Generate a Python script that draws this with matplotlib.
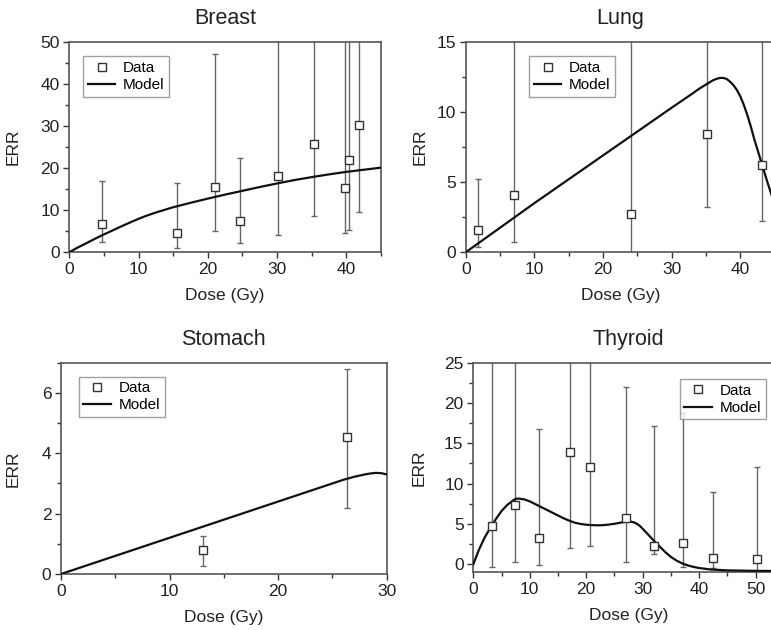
import numpy as np
import matplotlib
matplotlib.use("Agg")
import matplotlib.pyplot as plt
from matplotlib.ticker import MultipleLocator

plt.rcParams['font.family'] = ['Liberation Sans', 'DejaVu Sans']

# --- data ---
# Breast
breast_x = [4.7, 15.6, 21.1, 24.6, 30.2, 35.3, 39.8, 40.4, 41.8]
breast_y = [6.8, 4.7, 15.5, 7.5, 18.0, 25.8, 15.2, 22.0, 30.3]
breast_lo = [2.5, 1.0, 5.0, 2.2, 4.0, 8.5, 4.6, 5.2, 9.5]
breast_hi = [17.0, 16.5, 47.0, 22.4, 60.0, 60.0, 60.0, 60.0, 60.0]
breast_mx = [0, 1, 2.5, 4, 5, 6, 7.5, 9, 10, 11, 12.5, 15, 17.5, 20, 22.5, 25, 27.5, 30,
             32.5, 35, 37.5, 40, 42.5, 45]
breast_my = [0, 0.95, 2.2, 3.45, 4.25, 5.0, 6.15, 7.25, 7.95, 8.6, 9.45, 10.7, 11.75, 12.75,
             13.7, 14.6, 15.5, 16.35, 17.15, 17.85, 18.5, 19.1, 19.6, 20.1]

# Lung
lung_x = [1.75, 7.0, 24.0, 35.1, 43.2]
lung_y = [1.6, 4.1, 2.7, 8.4, 6.2]
lung_lo = [0.4, 0.7, -1.0, 3.2, 2.2]
lung_hi = [5.2, 20.0, 20.0, 20.0, 20.0]
lung_mx = [0, 5, 10, 15, 20, 25, 30, 33, 34, 35, 35.5, 36, 36.5, 37, 37.5, 38, 38.5, 39,
           39.5, 40, 40.5, 41, 41.5, 42, 42.5, 43, 43.5, 44, 44.5, 45]
lung_my = [0, 1.75, 3.5, 5.2, 6.9, 8.6, 10.3, 11.3, 11.65, 11.95, 12.1, 12.25, 12.35, 12.42,
           12.42, 12.35, 12.15, 11.9, 11.55, 11.1, 10.5, 9.8, 9.0, 8.1, 7.3, 6.5, 5.7, 4.9,
           4.15, 3.4]

# Stomach
stomach_x = [13.1, 26.3]
stomach_y = [0.78, 4.55]
stomach_lo = [0.25, 2.2]
stomach_hi = [1.27, 6.78]
stomach_mx = [0, 5, 10, 15, 20, 25, 26, 27, 28, 28.5, 29, 29.5, 30]
stomach_my = [0, 0.6, 1.2, 1.8, 2.4, 3.0, 3.12, 3.22, 3.3, 3.33, 3.35, 3.34, 3.3]

# Thyroid
thyroid_x = [3.3, 7.4, 11.7, 17.2, 20.7, 27.1, 32.0, 37.1, 42.5, 50.2]
thyroid_y = [4.76, 7.3, 3.3, 13.95, 12.1, 5.7, 2.3, 2.65, 0.8, 0.6]
thyroid_lo = [-0.33, 0.3, -0.1, 2.0, 2.3, 0.33, 1.25, -0.4, -0.5, -0.8]
thyroid_hi = [30.0, 30.0, 16.8, 30.0, 30.0, 22.0, 17.2, 18.7, 8.9, 12.1]
thyroid_mx = [0, 1, 2, 3, 4, 5, 6, 7, 7.5, 8, 9, 10, 11, 12, 13, 14, 15, 16, 17, 18, 19, 20,
              21, 22, 23, 24, 25, 26, 27, 27.5, 28, 28.5, 29, 29.5, 30, 31, 32, 33, 34, 35,
              36, 37, 38, 39, 40, 42, 45, 50, 55]
thyroid_my = [0.0, 1.8, 3.3, 4.5, 5.6, 6.6, 7.35, 7.9, 8.1, 8.15, 8.05, 7.8, 7.45, 7.1, 6.75,
              6.4, 6.05, 5.7, 5.4, 5.15, 5.0, 4.9, 4.85, 4.83, 4.85, 4.92, 5.02, 5.15, 5.27,
              5.3, 5.27, 5.18, 5.0, 4.75, 4.4, 3.65, 2.9, 2.2, 1.5, 0.9, 0.45, 0.1, -0.15,
              -0.33, -0.47, -0.65, -0.76, -0.82, -0.85]

W, H = 771, 630
fig = plt.figure(figsize=(W / 100, H / 100), dpi=100)


def px_axes(left, top, width, height):
    return fig.add_axes([left / W, 1 - (top + height) / H, width / W, height / H])


def panel(ax, title, x, y, lo, hi, mx, my, xlim, ylim, xmaj, ymaj, xmin, ymin,
          leg_xy, ylab_x):
    yerr = [np.array(y) - np.array(lo), np.array(hi) - np.array(y)]
    ax.errorbar(x, y, yerr=yerr, fmt='none', ecolor='#666666', elinewidth=1.0,
                capsize=2.5, capthick=1.0, zorder=2)
    ax.plot(x, y, 's', ms=5.5, mfc='white', mec='#333333', mew=1.0, zorder=4, label='Data')
    ax.plot(mx, my, '-', color='#111111', lw=1.6, zorder=3, label='Model')
    ax.set_xlim(*xlim)
    ax.set_ylim(*ylim)
    ax.xaxis.set_major_locator(MultipleLocator(xmaj))
    ax.yaxis.set_major_locator(MultipleLocator(ymaj))
    ax.xaxis.set_minor_locator(MultipleLocator(xmin))
    ax.yaxis.set_minor_locator(MultipleLocator(ymin))
    ax.tick_params(which='both', direction='out', top=False, right=False,
                   colors='#333333', labelcolor='#222222', labelsize=12.5)
    ax.tick_params(which='major', length=4, width=1, pad=3)
    ax.tick_params(which='minor', length=3, width=1)
    for s in ax.spines.values():
        s.set_color('#555555')
        s.set_linewidth(1.2)
    ax.set_title(title, fontsize=15.5, pad=13, color='#222222')
    ax.set_xlabel('Dose (Gy)', fontsize=12.5, color='#222222', labelpad=8)
    ax.set_ylabel('ERR', fontsize=12.5, color='#222222')
    ax.yaxis.set_label_coords(ylab_x, 0.5)
    leg = ax.legend(loc='upper left', bbox_to_anchor=leg_xy, fontsize=11, frameon=True,
                    fancybox=False, borderpad=0.3, labelspacing=0.2, handlelength=1.8,
                    handletextpad=0.5, borderaxespad=0)
    leg.get_frame().set_edgecolor('#888888')
    leg.get_frame().set_linewidth(1.0)


ax1 = px_axes(69.3, 41.7, 311.7, 210.6)
panel(ax1, 'Breast', breast_x, breast_y, breast_lo, breast_hi, breast_mx, breast_my,
      (0, 45), (0, 50), 10, 10, 5, 5, (0.045, 0.93), -0.155)

ax2 = px_axes(465.7, 41.7, 309, 210.6)
panel(ax2, 'Lung', lung_x, lung_y, lung_lo, lung_hi, lung_mx, lung_my,
      (0, 45), (0, 15), 10, 5, 5, 2.5, (0.206, 0.93), -0.122)

ax3 = px_axes(61, 362.7, 325.7, 211.3)
panel(ax3, 'Stomach', stomach_x, stomach_y, stomach_lo, stomach_hi, stomach_mx, stomach_my,
      (0, 30), (0, 7), 10, 2, 5, 1, (0.055, 0.934), -0.125)

ax4 = px_axes(473.3, 362.7, 310.6, 209.6)
panel(ax4, 'Thyroid', thyroid_x, thyroid_y, thyroid_lo, thyroid_hi, thyroid_mx, thyroid_my,
      (0, 55), (-1, 25), 10, 5, 5, 2.5, (0.665, 0.921), -0.149)

fig.savefig('out.png', dpi=100)
